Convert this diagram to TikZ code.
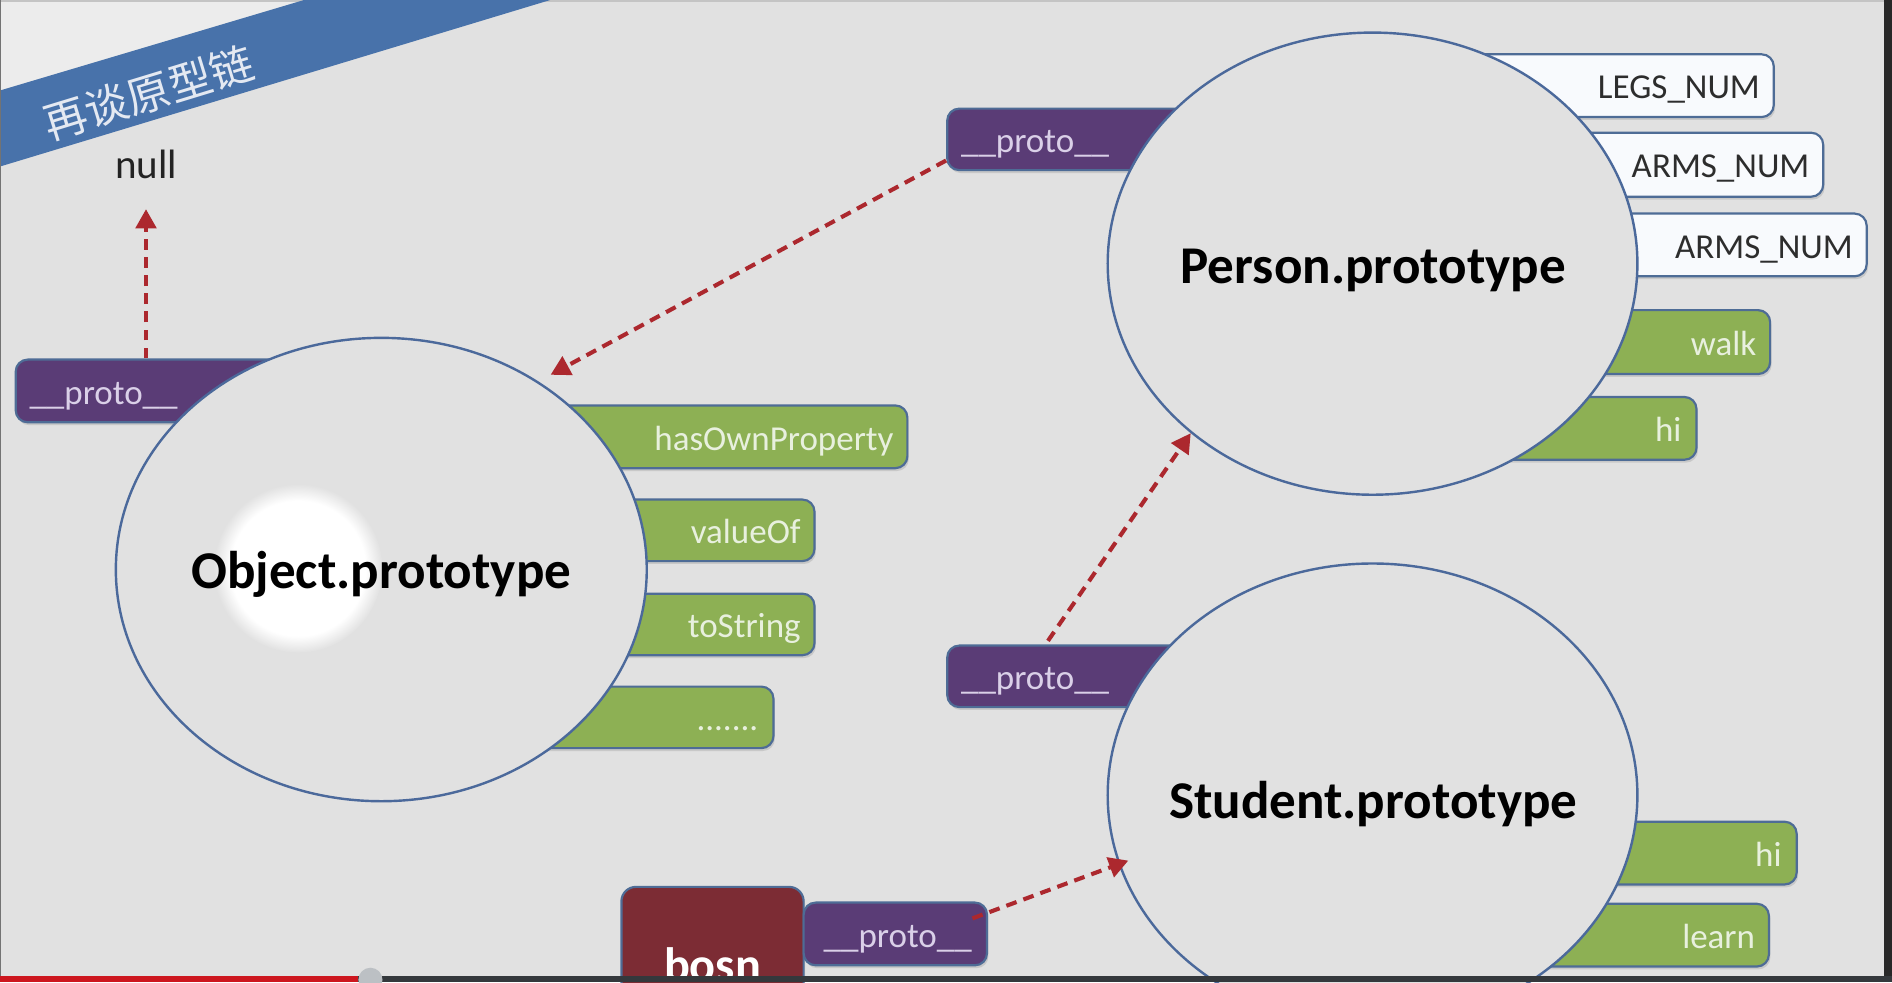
\documentclass[tikz,border=0pt]{standalone}
\usepackage{fontspec}
\setmainfont{Carlito}
\newfontfamily\cjkfont{Noto Sans CJK SC}
\usetikzlibrary{shadows,arrows.meta,calc,shapes.geometric}
\definecolor{bgc}{RGB}{225,225,225}
\definecolor{bgl}{RGB}{236,236,236}
\definecolor{bandc}{RGB}{72,114,170}
\definecolor{bandtext}{RGB}{228,233,242}
\definecolor{gfill}{RGB}{141,176,84}
\definecolor{gtext}{RGB}{232,240,222}
\definecolor{pfill}{RGB}{90,60,118}
\definecolor{ptext}{RGB}{218,208,232}
\definecolor{wfill}{RGB}{248,250,253}
\definecolor{wtext}{RGB}{45,45,45}
\definecolor{boxline}{RGB}{78,108,150}
\definecolor{eline}{RGB}{75,105,155}
\definecolor{arrc}{RGB}{172,40,46}
\definecolor{bosnc}{RGB}{124,44,52}
\definecolor{barred}{RGB}{205,22,30}
\definecolor{bardark}{RGB}{52,56,60}
\definecolor{knobc}{RGB}{188,192,196}
\definecolor{edgec}{RGB}{40,40,40}
\definecolor{topline}{RGB}{196,196,196}
\definecolor{nullc}{RGB}{35,35,35}
\pgfdeclareradialshading{glow}{\pgfpoint{0bp}{0bp}}{color(0bp)=(white); color(20bp)=(white); color(25bp)=(bgc); color(50bp)=(bgc)}
\tikzset{
  boxbase/.style={rounded corners=5pt, draw=boxline, line width=0.9pt, minimum height=26pt, inner sep=0pt,
    drop shadow={shadow xshift=0.6pt, shadow yshift=-1.2pt, opacity=0.25}},
  gbox/.style={boxbase, fill=gfill},
  wbox/.style={boxbase, fill=wfill},
  pbox/.style={boxbase, fill=pfill},
  lbl/.style={font=\fontsize{14.5}{17.4}\selectfont, inner sep=0pt},
  gtxt/.style={lbl, text=gtext, anchor=east},
  wtxt/.style={lbl, text=wtext, anchor=east},
  ptxt/.style={lbl, text=ptext},
  protoell/.style={ellipse, draw=eline, line width=1pt, fill=bgc, inner sep=0pt},
  elltxt/.style={font=\fontsize{22}{26}\selectfont\bfseries, text=black, inner sep=0pt},
  arr/.style={draw=arrc, line width=1.7pt, dash pattern=on 4.5pt off 3pt, -{Triangle[length=8pt,width=8.5pt]}},
}
\begin{document}
\begin{tikzpicture}[x=0.5pt,y=-0.5pt]
\useasboundingbox (0,0) rectangle (1568,814);
\clip (0,0) rectangle (1568,814);
% background
\fill[bgc] (0,0) rectangle (1568,814);
\fill[bgl] (0,0) -- (252,0) -- (0,75) -- cycle;
\fill[topline] (0,0) rectangle (1568,2);
\fill[bandc] (0,75) -- (252,0) -- (456,0) -- (0,138) -- cycle;
\node[rotate=17, text=bandtext, font=\cjkfont\fontsize{18}{20}\selectfont, inner sep=0pt] (title) at (123,77) {再谈原型链};
\node[font=\fontsize{17}{20}\selectfont, text=nullc, inner sep=0pt] (null) at (121,136) {null};

% Object.prototype boxes
\node[pbox, minimum width=123.5pt] (objproto) at (136.5,324) {};
\node[ptxt, anchor=west] (objprotol) at ($(objproto.west)+(12,4)$) {\strut\_\_proto\_\_};
\node[gbox, minimum width=166pt] (hop) at (586,362) {};
\node[gtxt] (hopl) at ($(hop.east)+(-12,4)$) {\strut hasOwnProperty};
\node[gbox, minimum width=127.5pt, minimum height=25.5pt] (valof) at (547.5,439.5) {};
\node[gtxt] (valofl) at ($(valof.east)+(-12,4)$) {\strut valueOf};
\node[gbox, minimum width=127.5pt, minimum height=25.5pt] (tostr) at (547.5,517.5) {};
\node[gtxt] (tostrl) at ($(tostr.east)+(-12,4)$) {\strut toString};
\node[gbox, minimum width=130.5pt, minimum height=25.5pt] (dots) at (510.5,594.5) {};
\node[gtxt] (dotsl) at ($(dots.east)+(-13,4)$) {\strut .......};

% Person.prototype boxes
\node[pbox, minimum width=112.5pt, minimum height=25.5pt] (pproto) at (897.5,115.5) {};
\node[ptxt, anchor=west] (pprotol) at ($(pproto.west)+(12,4)$) {\strut\_\_proto\_\_};
\node[wbox, minimum width=135pt] (legs) at (1335,71) {};
\node[wtxt] (legsl) at ($(legs.east)+(-12,4)$) {\strut LEGS\_NUM};
\node[wbox, minimum width=130.5pt, minimum height=26.5pt] (arms) at (1380.5,136.5) {};
\node[wtxt] (armsl) at ($(arms.east)+(-12,4)$) {\strut ARMS\_NUM};
\node[wbox, minimum width=133.5pt] (armsb) at (1413.5,203) {};
\node[wtxt] (armsbl) at ($(armsb.east)+(-12,4)$) {\strut ARMS\_NUM};
\node[gbox, minimum width=108.5pt, minimum height=26.5pt] (walk) at (1358.5,283.5) {};
\node[gtxt] (walkl) at ($(walk.east)+(-12,4)$) {\strut walk};
\node[gbox, minimum width=128pt] (phi) at (1278,355) {};
\node[gtxt] (phil) at ($(phi.east)+(-13,4)$) {\strut hi};

% Student.prototype boxes
\node[pbox, minimum width=112.5pt, minimum height=25.5pt] (sproto) at (897.5,560.5) {};
\node[ptxt, anchor=west] (sprotol) at ($(sproto.west)+(12,4)$) {\strut\_\_proto\_\_};
\node[gbox, minimum width=119.5pt] (shi) at (1369.5,707) {};
\node[gtxt] (shil) at ($(shi.east)+(-13,4)$) {\strut hi};
\node[gbox, minimum width=133pt] (learn) at (1333,775) {};
\node[gtxt] (learnl) at ($(learn.east)+(-12,4)$) {\strut learn};

% ellipses
\node[protoell, minimum width=220pt, minimum height=192pt] (obj) at (316,472) {};
\shade[shading=glow] (247,471) circle[radius=35pt];
\node[elltxt] (objl) at (316,476) {Object.prototype};
\node[protoell, minimum width=219.5pt, minimum height=191.5pt] (person) at (1137.5,218.5) {};
\node[elltxt] (personl) at (1138,224) {Person.prototype};
\node[protoell, minimum width=219.5pt, minimum height=192pt] (student) at (1137.5,659) {};
\node[elltxt] (studentl) at (1138,666) {Student.prototype};

% bosn
\node[boxbase, fill=bosnc, minimum width=75.5pt, minimum height=62.5pt, rounded corners=6pt] (bosn) at (590.5,797.5) {};
\node[font=\fontsize{20}{24}\selectfont\bfseries, text=white, anchor=base, inner sep=0pt] (bosnl) at (590.5,813) {bosn};
\node[pbox, minimum width=76pt] (bproto) at (742,774) {};
\node[ptxt] (bprotol) at ($(bproto.center)+(2,4)$) {\strut\_\_proto\_\_};

% arrows
\draw[arr, shorten >=12.5pt] (objproto.north -| null) -- (null.south);
\draw[arr] ($(pproto.west)+(0,17.5)$) -- ($(obj.center)!1.05!(obj.49)$);
\draw[arr] ($(sproto.north)+(-29,-3)$) -- (person.223);
\draw[arr] ($(bproto.north east)+(-13,14)$) -- ($(student.center)!0.96!(student.195)$);

% frame and player bar
\fill[edgec] (1561,0) rectangle (1568,814);
\fill[black!55] (0,0) rectangle (1.2,814);
\fill[bardark] (0,809) rectangle (1568,814);
\fill[barred] (0,809) rectangle (297,814);
\fill[knobc] (307,812) circle[radius=5pt];
\end{tikzpicture}
\end{document}
